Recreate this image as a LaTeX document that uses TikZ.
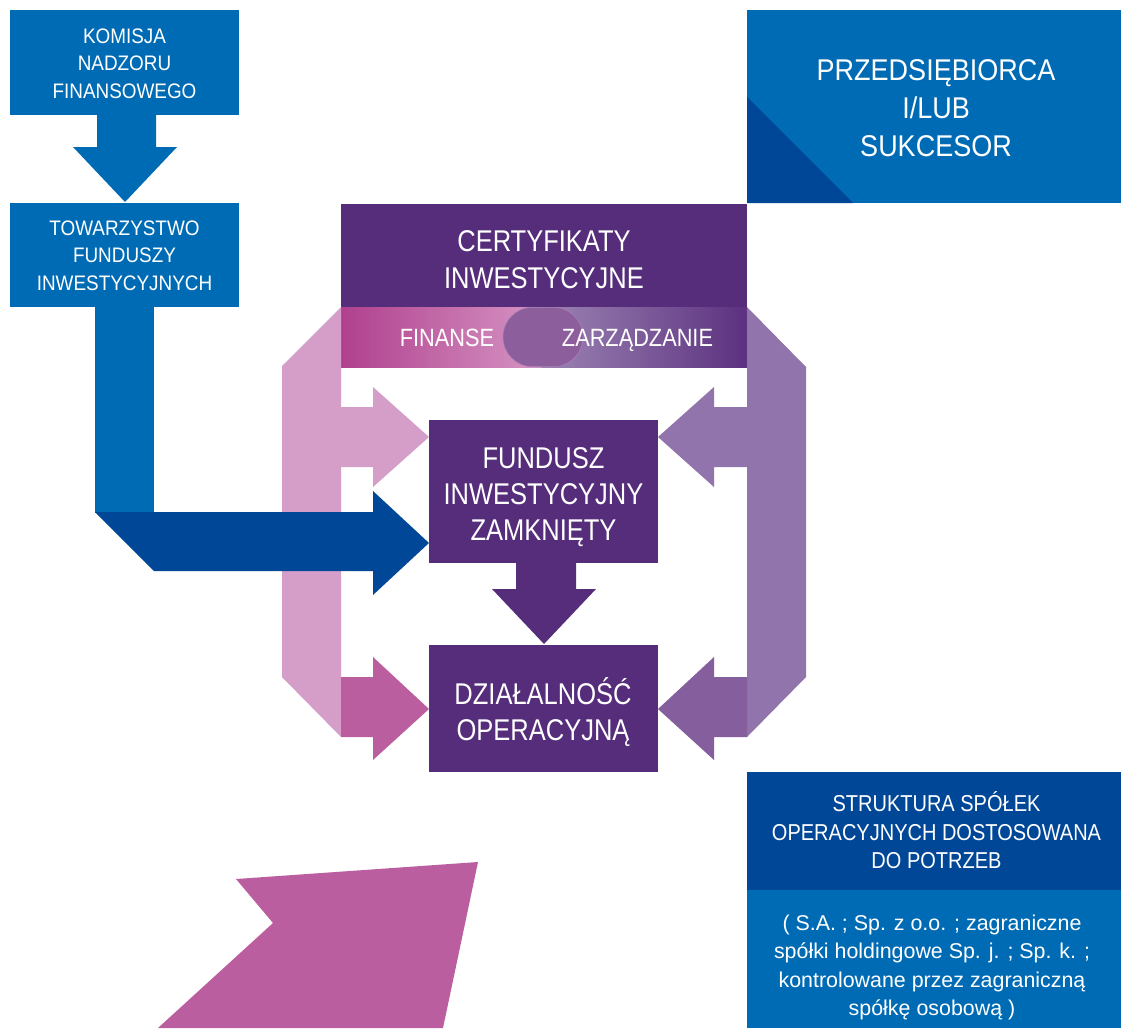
\documentclass[tikz,border=0pt]{standalone}
\usepackage{fontspec}
\setmainfont{Liberation Sans}
\newfontfamily\fA{Liberation Sans}[FakeStretch=0.9]
\newfontfamily\fB{Liberation Sans}[FakeStretch=0.85]
\newfontfamily\fC{Liberation Sans}[FakeStretch=0.87]
\definecolor{blueA}{HTML}{006BB5}
\definecolor{blueD}{HTML}{004897}
\definecolor{purp}{HTML}{562D7B}
\definecolor{pinkL}{HTML}{D49EC8}
\definecolor{pinkM}{HTML}{BB5E9F}
\definecolor{lavL}{HTML}{9174AB}
\definecolor{lavM}{HTML}{855F9D}
\definecolor{gradA}{HTML}{B0408E}
\definecolor{gradB}{HTML}{D696C4}
\definecolor{gradC}{HTML}{9C84B3}
\definecolor{gradD}{HTML}{5C3180}
\definecolor{pillc}{HTML}{8D5E9C}
\definecolor{pilledge}{HTML}{A77FB5}
\begin{document}
\begin{tikzpicture}[x=1pt,y=-1pt,
  boxn/.style={inner sep=0pt, outer sep=0pt, draw=none},
  txt/.style={text=white, inner sep=0pt, outer sep=0pt, anchor=base},
  smalltxt/.style={txt, font=\fA\fontsize{21}{25}\selectfont},
  bigtxt/.style={txt, font=\fB\fontsize{30}{36}\selectfont},
  przedtxt/.style={txt, font=\fA\fontsize{30}{36}\selectfont},
  bandtxt/.style={txt, font=\fC\fontsize{25}{30}\selectfont},
  strtxt/.style={txt, font=\fC\fontsize{23}{28}\selectfont},
  lowtxt/.style={txt, font=\fontsize{21.4}{26}\selectfont}]
\useasboundingbox (0,0) rectangle (1121,1028);
\fill[white] (0,0) rectangle (1121,1028);

% ---------- left blue column ----------
\node[boxn, fill=blueA, minimum width=229pt, minimum height=105pt] (knf) at (124.5,62.5) {};
\node[boxn, fill=blueA, minimum width=229pt, minimum height=104pt] (tfi) at (124.5,255) {};
\fill[blueA] (97,115) -- (156,115) -- (156,147) -- (177,147) -- (125,202) -- (73,147) -- (97,147) -- cycle;

% ---------- top right ----------
\node[boxn, fill=blueA, minimum width=374pt, minimum height=193pt] (przed) at (934,106.5) {};
\fill[blueD] (747,97) -- (747,203) -- (853,203) -- cycle;

% ---------- certificates + band ----------
\node[boxn, fill=purp, minimum width=406pt, minimum height=103pt] (cert) at (544,255.5) {};
\shade[left color=gradA, right color=gradB] (341,307) rectangle (545,367);
\shade[left color=gradC, right color=gradD] (541,307) rectangle (747,367);
\fill[pillc, draw=pilledge, line width=0.6pt, rounded corners=29.5pt] (503,307.3) rectangle (583,366.7);

% ---------- brackets ----------
\fill[pinkL] (341,307) -- (282,366) -- (282,677) -- (341,737) -- cycle;
\fill[pinkL] (341,407) -- (373,407) -- (373,387) -- (429,437) -- (373,487) -- (373,467) -- (341,467) -- cycle;
\fill[pinkM] (341,677) -- (373,677) -- (373,657) -- (429,709) -- (373,760) -- (373,737) -- (341,737) -- cycle;

\fill[lavL] (747,307) -- (806,367) -- (806,677) -- (747,737) -- cycle;
\fill[lavL] (747,407) -- (714,407) -- (714,387) -- (658,437) -- (714,487) -- (714,467) -- (747,467) -- cycle;
\fill[lavM] (747,677) -- (714,677) -- (714,657) -- (658,709) -- (714,760) -- (714,737) -- (747,737) -- cycle;

% ---------- blue connector from TFI ----------
\fill[blueA] (95,306) rectangle (154,512.5);
\fill[blueD] (95,512) -- (373,512) -- (373,491) -- (429,543) -- (373,595) -- (373,571) -- (154,571) -- cycle;

% ---------- fund + operations ----------
\node[boxn, fill=purp, minimum width=229pt, minimum height=143pt] (fund) at (543.5,491.5) {};
\fill[purp] (516,562) -- (576,562) -- (576,589) -- (596,589) -- (544,644) -- (492,589) -- (516,589) -- cycle;
\node[boxn, fill=purp, minimum width=229pt, minimum height=127pt] (dzial) at (543.5,708.5) {};

% ---------- structure box ----------
\node[boxn, fill=blueD, minimum width=374pt, minimum height=118pt] (strA) at (934,831) {};
\node[boxn, fill=blueA, minimum width=374pt, minimum height=138pt] (strB) at (934,959) {};

% ---------- bottom-left shape ----------
\fill[pinkM] (236,879) -- (478,862) -- (443,1028) -- (158,1028) -- (273,923) -- cycle;

% ---------- texts ----------
\node[smalltxt] (knf1) at (124.5,43.3) {KOMISJA};
\node[smalltxt] (knf2) at (124.5,70.8) {NADZORU};
\node[smalltxt] (knf3) at (124.5,98.3) {FINANSOWEGO};
\node[smalltxt] (tfi1) at (124.5,235) {TOWARZYSTWO};
\node[smalltxt] (tfi2) at (124.5,262.5) {FUNDUSZY};
\node[smalltxt] (tfi3) at (124.5,290) {INWESTYCYJNYCH};

\node[przedtxt] (pr1) at (936,80) {PRZEDSIĘBIORCA};
\node[przedtxt] (pr2) at (936,118.3) {I/LUB};
\node[przedtxt] (pr3) at (936,156.7) {SUKCESOR};

\node[bigtxt] (ce1) at (544,251.7) {CERTYFIKATY};
\node[bigtxt] (ce2) at (544,288.3) {INWESTYCYJNE};

\node[bandtxt] (fin) at (447,346.7) {FINANSE};
\node[bandtxt] (zarz) at (637.5,346.7) {ZARZĄDZANIE};

\node[bigtxt] (fu1) at (543.5,468.3) {FUNDUSZ};
\node[bigtxt] (fu2) at (543.5,504.3) {INWESTYCYJNY};
\node[bigtxt] (fu3) at (543.5,540.5) {ZAMKNIĘTY};

\node[bigtxt] (dz1) at (543,704) {DZIAŁALNOŚĆ};
\node[bigtxt] (dz2) at (543,740.7) {OPERACYJNĄ};

\node[strtxt] (st1) at (936.5,811.7) {STRUKTURA SPÓŁEK};
\node[strtxt] (st2) at (936.5,840) {OPERACYJNYCH DOSTOSOWANA};
\node[strtxt] (st3) at (936.5,868.3) {DO POTRZEB};

\node[lowtxt] (lo1) at (932,930) {( S.A. ; Sp. z o.o. ; zagraniczne};
\node[lowtxt] (lo2) at (932,958.5) {spółki holdingowe Sp. j. ; Sp. k. ;};
\node[lowtxt] (lo3) at (932,987) {kontrolowane przez zagraniczną};
\node[lowtxt] (lo4) at (932,1015) {spółkę osobową )};
\end{tikzpicture}
\end{document}
